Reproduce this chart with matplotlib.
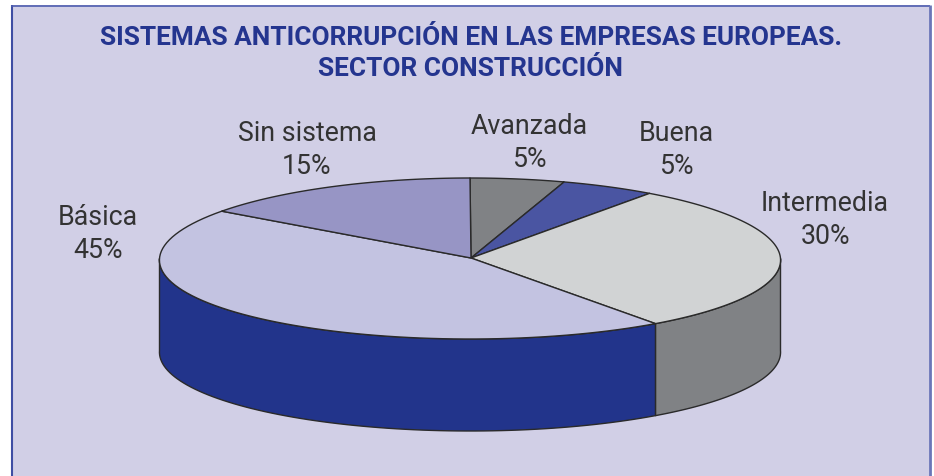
import numpy as np
import matplotlib
matplotlib.use("Agg")
import matplotlib.pyplot as plt
from matplotlib.patches import Polygon, Rectangle

titulo = "SISTEMAS ANTICORRUPCIÓN EN LAS EMPRESAS EUROPEAS.\nSECTOR CONSTRUCCIÓN"
categorias = ["Avanzada", "Buena", "Intermedia", "Básica", "Sin sistema"]
valores = [5, 5, 30, 45, 15]
colores = ["#808285", "#4A55A2", "#D1D3D4", "#C3C3E1", "#9795C5"]
colores_lado = ["#808285", "#4A55A2", "#808285", "#22348B", "#9795C5"]
pos_etiquetas = [(529, 143), (676, 150), (825, 220), (98, 234), (307, 150)]

# geometria de la torta en pixeles
cx, cy = 470, 259.5
rx, ry = 310.5, 80.5
alto = 92
persp = 0.02
vertice = (471, 259)
borde = "#2A2A2A"


def punto(ang, dy=0):
    # angulo en grados, horario desde arriba, con algo de perspectiva
    r = np.radians(ang)
    return cx + rx * np.sin(r) * (1 - persp * np.cos(r)), cy - ry * np.cos(r) + dy


fig = plt.figure(figsize=(9.34, 4.77), dpi=100, facecolor="white")
ax = fig.add_axes([0, 0, 1, 1])
ax.set_xlim(0, 934)
ax.set_ylim(477, 0)
ax.axis("off")

# panel de fondo, sin borde abajo (recortado)
ax.add_patch(Rectangle((11, 6), 919, 471, facecolor="#D1CFE6", edgecolor="none"))
ax.plot([11.5, 11.5], [6, 477], color="#3F4EA3", lw=1.5, solid_capstyle="butt")
ax.plot([11, 930], [6.5, 6.5], color="#4D5CAE", lw=1.2, solid_capstyle="butt")
ax.plot([930, 930], [6, 477], color="#6B76B8", lw=2.0, solid_capstyle="butt")

limites = np.concatenate([[0], np.cumsum(valores)]) * 3.6

# lados visibles (entre 90 y 270 grados)
for i in range(len(valores)):
    a0 = max(limites[i], 90)
    a1 = min(limites[i + 1], 270)
    if a1 <= a0:
        continue
    angs = np.linspace(a0, a1, 80)
    x, y = punto(angs)
    x2, y2 = punto(angs[::-1], alto)
    pts = np.column_stack([np.r_[x, x2], np.r_[y, y2]])
    ax.add_patch(Polygon(pts, closed=True, facecolor=colores_lado[i], edgecolor=borde, linewidth=1.0))

# cara superior
for i in range(len(valores)):
    angs = np.linspace(limites[i], limites[i + 1], 80)
    x, y = punto(angs)
    pts = np.column_stack([np.r_[vertice[0], x], np.r_[vertice[1], y]])
    ax.add_patch(Polygon(pts, closed=True, facecolor=colores[i], edgecolor=borde, linewidth=1.0, joinstyle="round"))

ax.text(471, 53.5, titulo, ha="center", va="center", color="#24358F", fontsize=18.9,
        fontweight="bold", family="Roboto", linespacing=1.38)

for nombre, val, (x, y) in zip(categorias, valores, pos_etiquetas):
    ax.text(x, y, f"{nombre}\n{val}%", ha="center", va="center", color="#333333",
            fontsize=19.3, family="Roboto", fontweight="normal", linespacing=1.3)

fig.savefig("out.png", dpi=100, facecolor=fig.get_facecolor())
